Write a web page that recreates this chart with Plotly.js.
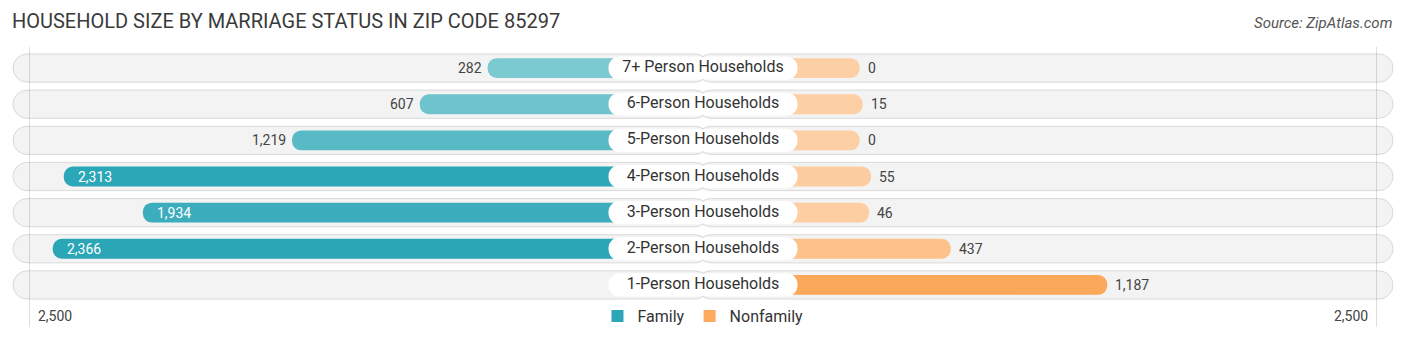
<!DOCTYPE html>
<html>
<head>
<meta charset="utf-8">
<script src="https://cdn.plot.ly/plotly-3.0.1.min.js"></script>
<style>
  html, body { margin: 0; padding: 0; background: #fff; }
  #chart { width: 1406px; height: 340px; }
</style>
</head>
<body>
<div id="chart"></div>
<script>
// ---- data ----
const categories = [
  "7+ Person Households",
  "6-Person Households",
  "5-Person Households",
  "4-Person Households",
  "3-Person Households",
  "2-Person Households",
  "1-Person Households"
];
const familyValues    = [282, 607, 1219, 2313, 1934, 2366, 0];
const nonfamilyValues = [0, 15, 0, 55, 46, 437, 1187];
// family value for 1-person households is not shown in the reference (no bar, no label)
const familyShown     = [true, true, true, true, true, true, false];
const axisMax = 2500;
const axisTickLabel = "2,500";
const seriesNames = ["Family", "Nonfamily"];
const titleText = "HOUSEHOLD SIZE BY MARRIAGE STATUS IN ZIP CODE 85297";
const sourceText = "Source: ZipAtlas.com";

// ---- layout constants (units of the value axis) ----
const W = 1406, H = 340;
const PLOT_TOP = 50, PLOT_BOTTOM = 303;
const PX_PER_UNIT = 0.2087;
const XR = (W / 2) / PX_PER_UNIT;     // half range of axis
const OFFSET = 750;                    // bars start under the label pill
const BG_HALF = 690 / PX_PER_UNIT;     // row background half length
const PILL_HALF = 94.5 / PX_PER_UNIT;  // label pill half length
const GRID_X = 673.5 / PX_PER_UNIT;
const OVERLAP = 30;                    // halves overlap so no seam shows
const fmt = v => v.toLocaleString("en-US");
const pyToPaper = py => (PLOT_BOTTOM - py) / (PLOT_BOTTOM - PLOT_TOP);

const famColor = "#2aa6b7", nonColor = "#fdab5e";
const zeros = categories.map(() => 0);

const traces = [];
// row backgrounds (two rounded halves)
[-1, 1].forEach(s => traces.push({
  type: "bar", orientation: "h", y: categories,
  base: categories.map(() => -s * OVERLAP),
  x: categories.map(() => s * (BG_HALF + OVERLAP)), width: 0.78,
  marker: { color: "#f3f3f3", line: { color: "#d9d9d9", width: 1 }, cornerradius: "50%" },
  showlegend: false, hoverinfo: "skip"
}));
// family bars (from the centre, extending past the label pill)
traces.push({
  type: "bar", orientation: "h", y: categories, base: zeros,
  x: familyValues.map((v, i) => familyShown[i] ? -(OFFSET + v) : 0),
  width: 0.55,
  marker: { color: familyValues, cmin: 0, cmax: 2400,
            colorscale: [[0, "#86cfd5"], [1, "#29a5b6"]], cornerradius: "50%" },
  showlegend: false, hoverinfo: "skip"
});
// nonfamily bars
traces.push({
  type: "bar", orientation: "h", y: categories, base: zeros,
  x: nonfamilyValues.map(v => OFFSET + v),
  width: 0.55,
  marker: { color: nonfamilyValues, cmin: 0, cmax: 1200,
            colorscale: [[0, "#fdcfa5"], [1, "#fca85a"]], cornerradius: "50%" },
  showlegend: false, hoverinfo: "skip"
});
// label pills
[-1, 1].forEach(s => traces.push({
  type: "bar", orientation: "h", y: categories,
  base: categories.map(() => -s * OVERLAP),
  x: categories.map(() => s * (PILL_HALF + OVERLAP)), width: 0.64,
  marker: { color: "#ffffff", line: { width: 0 }, cornerradius: "50%" },
  showlegend: false, hoverinfo: "skip"
}));
// category labels
traces.push({
  type: "scatter", mode: "text", y: categories, x: zeros, text: categories,
  textposition: "middle center",
  textfont: { family: "Roboto, sans-serif", size: 16, color: "#333333" },
  showlegend: false, hoverinfo: "skip"
});
// legend entries
traces.push({ type: "bar", orientation: "h", x: [null], y: [null], name: seriesNames[0],
  marker: { color: famColor }, showlegend: true, hoverinfo: "skip" });
traces.push({ type: "bar", orientation: "h", x: [null], y: [null], name: seriesNames[1],
  marker: { color: nonColor }, showlegend: true, hoverinfo: "skip" });

const annotations = [];
const INSIDE_MIN = 1500;
categories.forEach((c, i) => {
  const fv = familyValues[i];
  if (familyShown[i]) {
    const inside = fv >= INSIDE_MIN;
    annotations.push({
      x: -(OFFSET + fv), y: c, xref: "x", yref: "y", text: fmt(fv), showarrow: false,
      xanchor: inside ? "left" : "right", xshift: inside ? 12 : -4,
      font: { family: "Roboto, sans-serif", size: 14, color: inside ? "#ffffff" : "#444444" }
    });
  }
  const nv = nonfamilyValues[i];
  annotations.push({
    x: OFFSET + nv, y: c, xref: "x", yref: "y", text: fmt(nv), showarrow: false,
    xanchor: "left", xshift: 6,
    font: { family: "Roboto, sans-serif", size: 14, color: "#444444" }
  });
});
// axis end labels
annotations.push({ x: -GRID_X, y: pyToPaper(316), xref: "x", yref: "paper", text: axisTickLabel,
  showarrow: false, xanchor: "left", yanchor: "middle", xshift: 6,
  font: { family: "Roboto, sans-serif", size: 14, color: "#444444" } });
annotations.push({ x: GRID_X, y: pyToPaper(316), xref: "x", yref: "paper", text: axisTickLabel,
  showarrow: false, xanchor: "right", yanchor: "middle", xshift: -7,
  font: { family: "Roboto, sans-serif", size: 14, color: "#444444" } });
// source
annotations.push({ x: 1, y: pyToPaper(23), xref: "paper", yref: "paper", text: sourceText,
  showarrow: false, xanchor: "right", yanchor: "middle", xshift: -12,
  font: { family: "Roboto, sans-serif", size: 15, color: "#555555", style: "italic" } });

const shapes = [-GRID_X, GRID_X].map(gx => ({
  type: "line", xref: "x", yref: "paper", x0: gx, x1: gx,
  y0: pyToPaper(327), y1: pyToPaper(47),
  line: { color: "rgba(0,0,0,0.13)", width: 1 }, layer: "above"
}));

const layout = {
  width: W, height: H,
  margin: { l: 0, r: 0, t: PLOT_TOP, b: H - PLOT_BOTTOM, pad: 0 },
  paper_bgcolor: "#ffffff", plot_bgcolor: "#ffffff",
  barmode: "overlay",
  title: { text: titleText, x: 12 / W, xanchor: "left", xref: "container",
           y: 1 - 21 / H, yanchor: "middle", yref: "container",
           font: { family: "Roboto, sans-serif", size: 20, color: "#3a3a3a" } },
  xaxis: { range: [-XR, XR], showgrid: false, zeroline: false, showticklabels: false,
           ticks: "", fixedrange: true },
  yaxis: { type: "category", categoryorder: "array", categoryarray: categories,
           range: [categories.length - 0.5, -0.5], showgrid: false, zeroline: false,
           showticklabels: false, ticks: "", fixedrange: true },
  showlegend: true,
  legend: { orientation: "h", x: 0.5, xanchor: "center", y: pyToPaper(316), yanchor: "middle",
            font: { family: "Roboto, sans-serif", size: 16, color: "#333333" },
            bgcolor: "rgba(0,0,0,0)", itemclick: false, itemdoubleclick: false },
  annotations: annotations,
  shapes: shapes
};

Plotly.newPlot("chart", traces, layout, { displayModeBar: false, staticPlot: true });
</script>
</body>
</html>
